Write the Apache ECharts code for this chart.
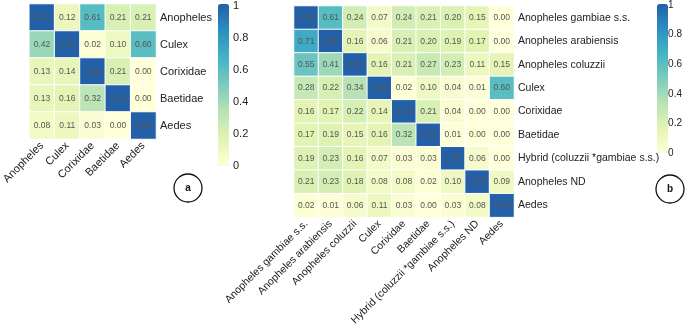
<!DOCTYPE html>
<html>
<head>
<meta charset="utf-8">
<script src="https://cdn.jsdelivr.net/npm/echarts@6/dist/echarts.min.js"></script>
<style>
html, body { margin: 0; padding: 0; background: #fff; }
#main { width: 685px; height: 328px; }
</style>
</head>
<body>
<div id="main"></div>
<script>
// panel a
var taxaA = ["Anopheles", "Culex", "Corixidae", "Baetidae", "Aedes"];
var matrixA = [
	[1.00, 0.12, 0.61, 0.21, 0.21],
	[0.42, 1.00, 0.02, 0.10, 0.60],
	[0.13, 0.14, 1.00, 0.21, 0.00],
	[0.13, 0.16, 0.32, 1.00, 0.00],
	[0.08, 0.11, 0.03, 0.00, 1.00]
];

// panel b
var taxaB = ["Anopheles gambiae s.s.", "Anopheles arabiensis", "Anopheles coluzzii", "Culex",
	"Corixidae", "Baetidae", "Hybrid (coluzzii *gambiae s.s.)", "Anopheles ND", "Aedes"];
var matrixB = [
	[1.00, 0.61, 0.24, 0.07, 0.24, 0.21, 0.20, 0.15, 0.00],
	[0.71, 1.00, 0.16, 0.06, 0.21, 0.20, 0.19, 0.17, 0.00],
	[0.55, 0.41, 1.00, 0.16, 0.21, 0.27, 0.23, 0.11, 0.15],
	[0.28, 0.22, 0.34, 1.00, 0.02, 0.10, 0.04, 0.01, 0.60],
	[0.16, 0.17, 0.22, 0.14, 1.00, 0.21, 0.04, 0.00, 0.00],
	[0.17, 0.19, 0.15, 0.16, 0.32, 1.00, 0.01, 0.00, 0.00],
	[0.19, 0.23, 0.16, 0.07, 0.03, 0.03, 1.00, 0.06, 0.00],
	[0.21, 0.23, 0.18, 0.08, 0.08, 0.02, 0.10, 1.00, 0.09],
	[0.02, 0.01, 0.06, 0.11, 0.03, 0.00, 0.03, 0.08, 1.00]
];

var colorTicks = [0, 0.2, 0.4, 0.6, 0.8, 1];
var palette = ['#ffffd9', '#e3f4b2', '#b9e3b6', '#7ccbbc', '#44b4c5', '#2c8fc1', '#2460a8'];

var FONT = "Liberation Sans, Arial, sans-serif";

// 把矩阵转成 [x, y, v]
function toCells(matrix) {
	var out = [];
	for (var r = 0; r < matrix.length; r++) {
		for (var c = 0; c < matrix[r].length; c++) {
			out.push([c, r, matrix[r][c]]);
		}
	}
	return out;
}

function catX(idx, names, fs) {
	return {
		type: 'category', gridIndex: idx, data: names, position: 'bottom',
		axisLine: { show: false }, axisTick: { show: false }, splitLine: { show: false },
		axisLabel: { rotate: 45, interval: 0, margin: 5, fontSize: fs, color: '#222', fontFamily: FONT }
	};
}

function catY(idx, names, fs) {
	return {
		type: 'category', gridIndex: idx, data: names, inverse: true, position: 'right',
		axisLine: { show: false }, axisTick: { show: false }, splitLine: { show: false },
		axisLabel: { interval: 0, margin: 4, fontSize: fs, color: '#222', fontFamily: FONT }
	};
}

function barX(idx) {
	return { type: 'value', gridIndex: idx, show: false, min: 0, max: 1 };
}

function barY(idx, fs) {
	return {
		type: 'value', gridIndex: idx, min: 0, max: 1, interval: 0.2, position: 'right',
		axisLine: { show: false }, axisTick: { show: false }, splitLine: { show: false },
		axisLabel: { margin: 4, fontSize: fs, color: '#222', fontFamily: FONT,
			formatter: function (v) { return colorTicks.indexOf(v) >= 0 ? String(v) : ''; } }
	};
}

function heat(idx, matrix) {
	return {
		type: 'heatmap', xAxisIndex: idx, yAxisIndex: idx, data: toCells(matrix),
		itemStyle: { borderColor: '#fff', borderWidth: 1 },
		label: { show: true, fontSize: 8.5, color: '#555', fontFamily: FONT,
			formatter: function (p) { return p.value[2].toFixed(2); } },
		emphasis: { disabled: true }
	};
}

function ring(cx, cy, txt) {
	return [
		{ type: 'circle', shape: { cx: cx, cy: cy, r: 14 }, style: { fill: '#fff', stroke: '#111', lineWidth: 1.3 } },
		{ type: 'text', x: cx, y: cy, style: { text: txt, fontSize: 10, fontWeight: 'bold', fill: '#111',
			align: 'center', verticalAlign: 'middle', fontFamily: FONT } }
	];
}

var myChart = echarts.init(document.getElementById('main'), null, { renderer: 'canvas' });

option = {
	animation: false,
	backgroundColor: '#fff',
	grid: [
		{ left: 21, top: 4, width: 135, height: 135 },
		{ left: 294, top: 6, width: 220, height: 219 },
		{ left: 218, top: 4, width: 11, height: 162 },
		{ left: 657, top: 4, width: 11, height: 149 }
	],
	xAxis: [catX(0, taxaA, 11), catX(1, taxaB, 10.5), barX(2), barX(3)],
	yAxis: [catY(0, taxaA, 11), catY(1, taxaB, 10.5), barY(2, 11), barY(3, 10)],
	visualMap: [
		{ type: 'continuous', seriesIndex: 0, min: 0, max: 1, calculable: false, orient: 'vertical',
			left: 218, top: 4, itemWidth: 11, itemHeight: 162, padding: 0, text: null, showLabel: false,
			inRange: { color: palette } },
		{ type: 'continuous', seriesIndex: 1, min: 0, max: 1, calculable: false, orient: 'vertical',
			left: 657, top: 4, itemWidth: 11, itemHeight: 149, padding: 0, text: null, showLabel: false,
			inRange: { color: palette } }
	],
	series: [
		heat(0, matrixA),
		heat(1, matrixB),
		{ type: 'line', xAxisIndex: 2, yAxisIndex: 2, data: [], silent: true },
		{ type: 'line', xAxisIndex: 3, yAxisIndex: 3, data: [], silent: true }
	],
	graphic: ring(188, 188, 'a').concat(ring(670, 189, 'b'))
};

myChart.setOption(option);
</script>
</body>
</html>
